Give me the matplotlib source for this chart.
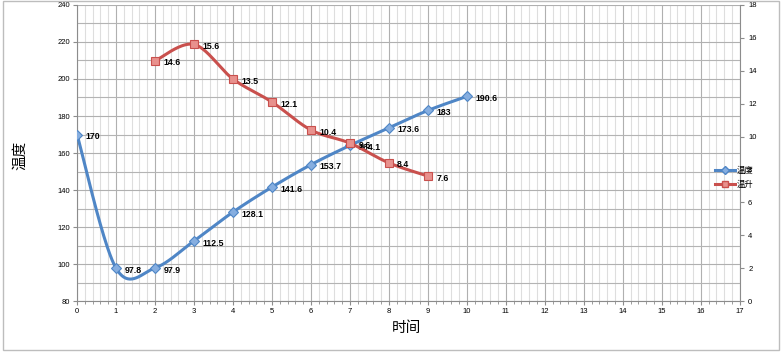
import numpy as np
import matplotlib
matplotlib.use("Agg")
import matplotlib.pyplot as plt
from matplotlib.patches import Rectangle
from matplotlib.ticker import MultipleLocator

plt.rcParams['font.family'] = ['Liberation Sans', 'Noto Sans CJK SC', 'DejaVu Sans']

# data
temp_x = [0, 1, 2, 3, 4, 5, 6, 7, 8, 9, 10]
temp_y = [170, 97.8, 97.9, 112.5, 128.1, 141.6, 153.7, 164.1, 173.6, 183, 190.6]
rise_x = [2, 3, 4, 5, 6, 7, 8, 9]
rise_y = [14.6, 15.6, 13.5, 12.1, 10.4, 9.6, 8.4, 7.6]

BLUE = '#4F86C6'
BLUE_FILL = '#86AEE0'
RED = '#C9504D'
RED_FILL = '#E8918D'


def smooth(xs, ys, n=40):
    """Catmull-Rom curve through the points (like Excel's smoothed line)."""
    p = np.column_stack([xs, ys]).astype(float)
    p = np.vstack([p[0], p, p[-1]])
    out = []
    t = np.linspace(0, 1, n)[:, None]
    for i in range(1, len(p) - 2):
        p0, p1, p2, p3 = p[i - 1], p[i], p[i + 1], p[i + 2]
        m1 = (p2 - p0) / 2
        m2 = (p3 - p1) / 2
        h00 = 2 * t**3 - 3 * t**2 + 1
        h10 = t**3 - 2 * t**2 + t
        h01 = -2 * t**3 + 3 * t**2
        h11 = t**3 - t**2
        seg = h00 * p1 + h10 * m1 + h01 * p2 + h11 * m2
        out.append(seg if i == 1 else seg[1:])
    c = np.vstack(out)
    return c[:, 0], c[:, 1]


fig = plt.figure(figsize=(7.82, 3.53), dpi=100)
ax = fig.add_axes([0.0985, 0.147, 0.8475, 0.839])
ax2 = ax.twinx()

ax.set_xlim(0, 17)
ax.set_ylim(80, 240)
ax2.set_ylim(0, 18)

ax.xaxis.set_major_locator(MultipleLocator(1))
ax.xaxis.set_minor_locator(MultipleLocator(0.2))
ax.yaxis.set_major_locator(MultipleLocator(20))
ax.yaxis.set_minor_locator(MultipleLocator(10))
ax2.yaxis.set_major_locator(MultipleLocator(2))

ax.grid(axis='x', which='minor', color='#dedede', lw=0.8)
ax.grid(axis='y', which='minor', color='#b4b4b4', lw=0.8)
ax.grid(which='major', color='#b0b0b0', lw=0.8)
ax.set_axisbelow(True)

for a in (ax, ax2):
    for s in a.spines.values():
        s.set_visible(False)
ax.spines['left'].set_visible(True)
ax.spines['bottom'].set_visible(True)
ax2.spines['right'].set_visible(True)
for s in (ax.spines['left'], ax.spines['bottom'], ax2.spines['right']):
    s.set_color('#8c8c8c')
    s.set_linewidth(0.8)

ax.tick_params(axis='both', which='major', labelsize=5.5, length=3, color='#8c8c8c', pad=2)
ax.tick_params(axis='y', which='minor', length=0)
ax.tick_params(axis='x', which='minor', length=2, color='#8c8c8c')
ax2.tick_params(axis='y', labelsize=5.5, length=3, color='#8c8c8c', pad=3)

# temperature curve
sx, sy = smooth(temp_x, temp_y)
ax.plot(sx, sy, color=BLUE, lw=2.2, zorder=3)
ax.plot(temp_x, temp_y, ls='none', marker='D', ms=5, mfc=BLUE_FILL, mec=BLUE, mew=0.8, zorder=4)
for x, y in zip(temp_x, temp_y):
    ax.annotate(f'{y:g}', (x, y), xytext=(6, -1.5), textcoords='offset points',
                fontsize=6.3, fontweight='bold', va='center', ha='left', zorder=5)

# temperature rise curve
rx, ry = smooth(rise_x, rise_y)
ax2.plot(rx, ry, color=RED, lw=2.2, zorder=3)
ax2.plot(rise_x, rise_y, ls='none', marker='s', ms=5.5, mfc=RED_FILL, mec=RED, mew=0.8, zorder=4)
for x, y in zip(rise_x, rise_y):
    ax2.annotate(f'{y:g}', (x, y), xytext=(6, -1.5), textcoords='offset points',
                 fontsize=6.3, fontweight='bold', va='center', ha='left', zorder=5)

fig.text(0.026, 0.56, '温度', rotation=90, fontsize=10.5, ha='center', va='center')
fig.text(0.52, 0.072, '时间', fontsize=10.5, ha='center', va='center')

# legend outside plot area
h1, = ax.plot([], [], color=BLUE, lw=2.2, marker='D', ms=4.5, mfc=BLUE_FILL, mec=BLUE)
h2, = ax.plot([], [], color=RED, lw=2.2, marker='s', ms=5, mfc=RED_FILL, mec=RED)
fig.legend([h1, h2], ['温度', '温升'], loc='center left', bbox_to_anchor=(0.905, 0.497),
           frameon=False, fontsize=6, handlelength=2.4, handletextpad=0.2, labelspacing=0.6)

fig.patches.append(Rectangle((0.004, 0.008), 0.992, 0.99, transform=fig.transFigure,
                             fill=False, ec='#bdbdbd', lw=1.0))

fig.savefig('out.png', dpi=100)
